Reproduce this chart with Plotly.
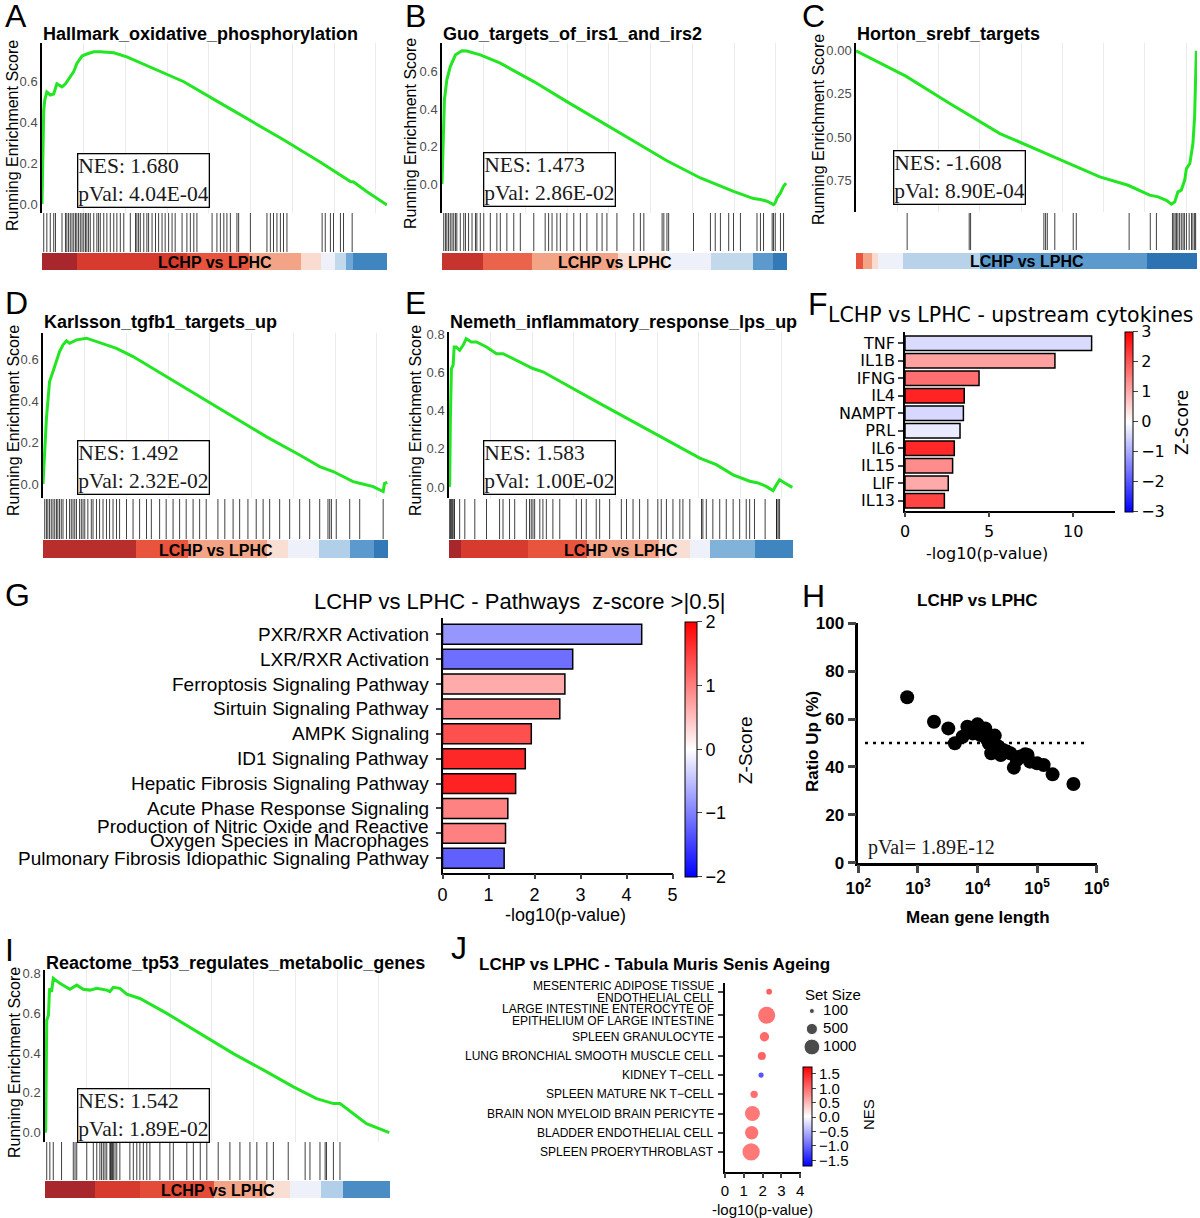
import plotly.graph_objects as go

W, H = 1200, 1218
SANS = "Liberation Sans, Arial, sans-serif"
SERIF = "Liberation Serif, Times New Roman, serif"
DEJAVU = "DejaVu Sans, sans-serif"

# ---------------- GSEA panels: rank (% of ranked list) vs running ES ----------------
A_title = "Hallmark_oxidative_phosphorylation"
A_nes, A_pval = "1.680", "4.04E-04"
A_rank = [0, 0.3, 0.5, 0.8, 1.4, 2.4, 3.4, 4.3, 5.8, 6.8, 8.2, 9.2, 10.1, 11.6, 13.0, 15.0, 16.9,
          20.8, 24.6, 31.4, 41.1, 50.7, 60.4, 70.0, 80.7, 84.5, 89.4, 90.3, 94.2, 100]
A_es = [0.0, 0.30, 0.46, 0.51, 0.55, 0.535, 0.54, 0.59, 0.575, 0.59, 0.625, 0.65, 0.69, 0.726, 0.736,
        0.747, 0.747, 0.742, 0.722, 0.673, 0.60, 0.505, 0.41, 0.315, 0.205, 0.165, 0.11, 0.108, 0.06, -0.005]
A_hits = [0.5, 1.4, 2.4, 3.4, 3.9, 5.8, 6.8, 7.2, 7.7, 8.2, 8.7, 9.2, 9.7, 10.1, 10.6, 11.1, 11.6, 12.1,
          12.6, 13.0, 13.5, 14.0, 15.0, 15.9, 16.4, 16.9, 17.9, 18.8, 19.8, 20.8, 21.7, 22.7, 23.7, 25.6,
          27.1, 27.5, 28.0, 28.5, 29.5, 30.4, 30.9, 31.9, 32.9, 33.8, 34.8, 35.7, 36.7, 37.7, 38.6, 40.6,
          42.0, 43.0, 44.0, 44.9, 49.3, 50.7, 51.7, 52.7, 53.6, 54.6, 56.5, 57.0, 60.4, 65.2, 66.2, 67.1,
          68.1, 69.1, 70.0, 71.0, 81.2, 82.1, 83.6, 84.5, 86.5, 87.4, 89.9]
A_edges = [0, 10, 42, 60, 75, 81, 85, 88, 90, 100]
A_metric = [1.0, 0.85, 0.7, 0.45, 0.22, 0.0, -0.25, -0.5, -0.75]
A_ticks = [0, 0.2, 0.4, 0.6]
A_ticklabels = ["0.0", "0.2", "0.4", "0.6"]

B_title = "Guo_targets_of_irs1_and_irs2"
B_nes, B_pval = "1.473", "2.86E-02"
B_rank = [0, 0.3, 0.7, 1.4, 2.4, 3.9, 5.8, 7.2, 11.1, 16.9, 26.6, 36.2, 45.9, 55.6, 65.2, 74.9, 79.7,
          84.5, 90.3, 92.3, 94.2, 96.1, 96.6, 97.1, 98.1, 99.0, 99.7]
B_es = [0.0, 0.27, 0.45, 0.556, 0.627, 0.69, 0.712, 0.71, 0.69, 0.645, 0.547, 0.44, 0.334, 0.227, 0.124,
        0.032, -0.004, -0.04, -0.078, -0.083, -0.092, -0.11, -0.10, -0.075, -0.048, -0.012, 0.005]
B_hits = [0.5, 1.0, 1.4, 1.9, 2.4, 2.9, 3.4, 3.9, 4.3, 5.3, 6.3, 6.8, 7.7, 8.7, 9.7, 10.1, 11.1, 12.1,
          14.0, 15.9, 16.9, 18.8, 20.8, 22.7, 26.6, 29.9, 30.9, 31.9, 33.3, 34.3, 36.2, 38.2, 40.1, 42.0,
          44.9, 46.4, 47.8, 50.7, 55.6, 57.5, 58.5, 63.8, 64.3, 65.2, 65.7, 72.9, 77.8, 79.2, 80.7, 83.1,
          84.5, 86.5, 91.3, 92.3, 93.2, 95.7, 96.1, 96.6, 98.1, 99.0]
B_edges = [0, 12, 26, 51, 65, 78, 90, 96, 100]
B_metric = [0.9, 0.65, 0.45, 0.2, 0.0, -0.25, -0.6, -0.85]
B_ticks = [0, 0.2, 0.4, 0.6]
B_ticklabels = ["0.0", "0.2", "0.4", "0.6"]

C_title = "Horton_srebf_targets"
C_nes, C_pval = "-1.608", "8.90E-04"
C_rank = [0, 14.6, 27.5, 42.2, 56.8, 71.5, 79.8, 86.1, 88.6, 91.0, 92.5, 93.5, 94.4, 95.4, 96.4, 96.9,
          97.9, 98.8, 99.3, 99.8]
C_es = [0.0, -0.147, -0.306, -0.48, -0.605, -0.731, -0.78, -0.837, -0.847, -0.867, -0.89, -0.876,
        -0.818, -0.808, -0.75, -0.683, -0.654, -0.538, -0.383, 0.0]
C_hits = [15.0, 33.2, 33.6, 55.1, 55.6, 56.1, 58.3, 63.7, 64.6, 80.1, 86.3, 88.1, 92.8, 93.2, 93.6, 94.0,
          94.4, 94.9, 95.4, 95.9, 96.3, 96.9, 97.7, 98.4, 98.8, 99.3, 99.6]
C_edges = [0, 2.1, 4.6, 6.5, 13.8, 36.3, 85.2, 100]
C_metric = [0.7, 0.45, 0.22, 0.0, -0.28, -0.6, -0.9]
C_ticks = [0, -0.25, -0.5, -0.75]
C_ticklabels = ["0.00", "0.25", "0.50", "0.75"]

D_title = "Karlsson_tgfb1_targets_up"
D_nes, D_pval = "1.492", "2.32E-02"
D_rank = [0, 0.5, 1.0, 1.4, 1.9, 2.9, 3.9, 4.8, 5.8, 6.8, 7.7, 9.7, 12.6, 16.4, 21.3, 26.1, 35.7, 45.4,
          55.1, 64.7, 74.4, 80.2, 84.1, 89.9, 91.8, 93.7, 95.7, 98.6, 99.0, 99.8]
D_es = [0.0, 0.19, 0.318, 0.398, 0.495, 0.544, 0.592, 0.64, 0.673, 0.692, 0.68, 0.697, 0.705, 0.685,
        0.656, 0.616, 0.519, 0.423, 0.326, 0.229, 0.14, 0.084, 0.06, 0.011, 0.003, -0.005, -0.013,
        -0.037, 0.003, 0.008]
D_hits = [0.5, 1.0, 1.4, 1.9, 2.4, 2.9, 3.4, 3.9, 4.3, 4.8, 5.3, 5.8, 6.8, 7.7, 8.2, 8.7, 9.2, 9.7, 10.6,
          11.1, 11.6, 12.1, 13.0, 14.0, 14.5, 15.5, 16.4, 17.4, 18.4, 19.3, 20.3, 21.3, 22.2, 24.2, 26.1,
          28.0, 30.0, 31.4, 33.8, 35.7, 37.7, 39.6, 41.5, 43.5, 45.4, 47.3, 50.7, 52.7, 55.1, 57.0, 59.4,
          61.8, 63.8, 65.7, 68.6, 71.5, 74.4, 77.3, 80.2, 82.6, 83.1, 83.6, 85.0, 88.9, 91.8, 98.6]
D_edges = [0, 27, 42, 65, 71, 80, 89, 96, 100]
D_metric = [0.95, 0.7, 0.45, 0.2, 0.0, -0.3, -0.6, -0.85]
D_ticks = [0, 0.2, 0.4, 0.6]
D_ticklabels = ["0.0", "0.2", "0.4", "0.6"]

E_title = "Nemeth_inflammatory_response_lps_up"
E_nes, E_pval = "1.583", "1.00E-02"
E_rank = [0, 0.2, 0.4, 0.7, 1.2, 1.5, 2.1, 3.1, 4.1, 5.0, 6.5, 8.0, 10.9, 13.8, 15.7, 19.6, 24.4, 27.3,
          34.1, 43.8, 53.5, 63.2, 72.9, 77.7, 82.6, 87.4, 89.8, 92.2, 94.2, 94.9, 96.1, 97.6, 99.8]
E_es = [0.0, 0.012, 0.36, 0.62, 0.64, 0.735, 0.735, 0.718, 0.744, 0.779, 0.762, 0.762, 0.735, 0.70, 0.70,
        0.666, 0.622, 0.605, 0.535, 0.439, 0.343, 0.247, 0.152, 0.117, 0.064, 0.03, 0.021, 0.003,
        -0.019, 0.003, 0.038, 0.021, -0.002]
E_hits = [0.2, 0.4, 0.7, 1.0, 1.4, 1.6, 3.1, 4.6, 7.5, 10.9, 14.7, 15.7, 17.6, 19.1, 22.5, 23.4, 23.9,
          24.4, 24.9, 26.4, 27.3, 28.3, 30.2, 32.2, 37.0, 38.5, 39.9, 42.8, 43.8, 46.7, 50.1, 51.6, 53.5,
          55.4, 57.8, 60.7, 61.7, 63.2, 65.1, 67.1, 68.0, 70.0, 73.4, 73.8, 74.8, 76.7, 78.7, 80.6, 82.6,
          84.5, 86.4, 87.4, 88.8, 91.9, 95.2, 95.3, 95.7, 96.1]
E_edges = [0, 3.6, 23, 40, 61, 70, 76, 89, 100]
E_metric = [1.0, 0.85, 0.7, 0.45, 0.2, 0.0, -0.45, -0.75]
E_ticks = [0, 0.2, 0.4, 0.6, 0.8]
E_ticklabels = ["0.0", "0.2", "0.4", "0.6", "0.8"]

I_title = "Reactome_tp53_regulates_metabolic_genes"
I_nes, I_pval = "1.542", "1.89E-02"
I_rank = [0, 0.2, 0.5, 1.0, 1.3, 1.4, 1.9, 2.2, 2.4, 4.3, 7.2, 9.2, 11.1, 13.0, 15.0, 17.9, 18.8, 19.8,
          21.7, 23.7, 27.5, 35.3, 44.9, 54.6, 64.3, 72.0, 78.7, 81.6, 83.6, 85.5, 89.4, 93.2, 99.8]
I_es = [0.0, 0.012, 0.565, 0.59, 0.716, 0.725, 0.708, 0.766, 0.775, 0.75, 0.72, 0.741, 0.72, 0.716,
        0.725, 0.716, 0.708, 0.73, 0.725, 0.696, 0.674, 0.599, 0.498, 0.397, 0.305, 0.23, 0.171, 0.154,
        0.146, 0.146, 0.096, 0.045, 0.0]
I_hits = [0.5, 1.4, 2.4, 4.8, 8.2, 8.7, 9.2, 12.1, 14.0, 15.0, 15.9, 16.4, 16.9, 17.4, 17.9, 18.8, 19.0,
          19.3, 19.6, 19.8, 20.3, 20.8, 21.7, 24.6, 25.6, 26.6, 27.5, 28.5, 29.5, 30.4, 33.3, 36.2, 37.2,
          41.1, 43.0, 45.0, 46.9, 50.2, 53.6, 56.5, 59.4, 61.4, 64.3, 66.2, 70.5, 75.4, 76.8, 79.7, 81.2,
          81.6, 83.6, 85.5]
I_edges = [0, 14.5, 27.5, 49, 64, 71, 80, 86.5, 100]
I_metric = [1.0, 0.85, 0.75, 0.45, 0.2, 0.0, -0.3, -0.7]
I_ticks = [0, 0.2, 0.4, 0.6, 0.8]
I_ticklabels = ["0.0", "0.2", "0.4", "0.6", "0.8"]

COMPARISON = "LCHP vs LPHC"

# ---------------- F: upstream cytokines ----------------
F_cytokines = ["TNF", "IL1B", "IFNG", "IL4", "NAMPT", "PRL", "IL6", "IL15", "LIF", "IL13"]
F_logp = [11.09, 8.91, 4.40, 3.52, 3.47, 3.27, 2.93, 2.83, 2.57, 2.34]
F_z = [-0.42, 1.11, 1.7, 2.59, -0.47, -0.23, 2.53, 1.35, 1.0, 2.2]

# ---------------- G: pathways ----------------
G_pathways = ["PXR/RXR Activation", "LXR/RXR Activation", "Ferroptosis Signaling Pathway",
              "Sirtuin Signaling Pathway", "AMPK Signaling", "ID1 Signaling Pathway",
              "Hepatic Fibrosis Signaling Pathway", "Acute Phase Response Signaling",
              "Production of Nitric Oxide and Reactive\nOxygen Species in Macrophages",
              "Pulmonary Fibrosis Idiopathic Signaling Pathway"]
G_logp = [4.33, 2.83, 2.66, 2.55, 1.93, 1.80, 1.59, 1.42, 1.37, 1.34]
G_z = [-0.82, -1.14, 0.66, 0.98, 1.37, 1.69, 1.73, 0.98, 1.0, -1.25]

# ---------------- H: ratio up vs gene length ----------------
H_gene_len = [661, 1862, 3236, 4169, 5623, 6761, 8318, 10000, 11220, 13490, 14125, 15490, 17000, 19500,
              22390, 24550, 26900, 30900, 35480, 40740, 45700, 51290, 63100, 69180, 75860, 100000,
              128800, 182000, 407000]
H_ratio_up = [69.1, 58.9, 56.1, 49.9, 52.6, 56.8, 54.0, 57.8, 53.3, 56.1, 51.9, 49.9, 45.7, 53.1, 48.5,
              45.0, 47.1, 46.4, 45.7, 39.7, 42.9, 44.3, 45.3, 45.0, 42.2, 41.5, 40.8, 36.9, 32.9]
H_ref = 50
H_pval = "1.89E-12"
H_xticks = [1e2, 1e3, 1e4, 1e5, 1e6]
H_xticklabels = ["10<sup>2</sup>", "10<sup>3</sup>", "10<sup>4</sup>", "10<sup>5</sup>", "10<sup>6</sup>"]

# ---------------- J: Tabula Muris Senis ----------------
J_cells = ["MESENTERIC ADIPOSE TISSUE\nENDOTHELIAL CELL",
           "LARGE INTESTINE ENTEROCYTE OF\nEPITHELIUM OF LARGE INTESTINE",
           "SPLEEN GRANULOCYTE", "LUNG BRONCHIAL SMOOTH MUSCLE CELL", "KIDNEY T\u2212CELL",
           "SPLEEN MATURE NK T\u2212CELL", "BRAIN NON MYELOID BRAIN PERICYTE",
           "BLADDER ENDOTHELIAL CELL", "SPLEEN PROERYTHROBLAST"]
J_logp = [2.35, 2.22, 2.10, 1.96, 1.92, 1.55, 1.46, 1.42, 1.39]
J_setsize = [130, 1150, 350, 256, 110, 215, 900, 711, 1200]
J_nes = [1.55, 1.35, 1.45, 1.5, -1.6, 1.4, 1.3, 1.35, 1.3]
J_legend_sizes = [100, 500, 1000]

# ---------------- styling ----------------
STRIP = [[0.0, "#2166ac"], [0.125, "#3f86c0"], [0.25, "#6fa8d6"], [0.375, "#c2d9ec"],
         [0.5, "#eef0fa"], [0.625, "#fbd9c9"], [0.725, "#f4a486"], [0.85, "#e8543e"],
         [0.925, "#d63b2e"], [1.0, "#a7272c"]]
BWR = [[0, "rgb(0,0,255)"], [0.5, "rgb(255,255,255)"], [1, "rgb(255,0,0)"]]

gsea = {
    "A": dict(title=A_title, nes=A_nes, pval=A_pval, rank=A_rank, es=A_es, hits=A_hits, edges=A_edges,
              metric=A_metric, ticks=A_ticks, ticklabels=A_ticklabels),
    "B": dict(title=B_title, nes=B_nes, pval=B_pval, rank=B_rank, es=B_es, hits=B_hits, edges=B_edges,
              metric=B_metric, ticks=B_ticks, ticklabels=B_ticklabels),
    "C": dict(title=C_title, nes=C_nes, pval=C_pval, rank=C_rank, es=C_es, hits=C_hits, edges=C_edges,
              metric=C_metric, ticks=C_ticks, ticklabels=C_ticklabels),
    "D": dict(title=D_title, nes=D_nes, pval=D_pval, rank=D_rank, es=D_es, hits=D_hits, edges=D_edges,
              metric=D_metric, ticks=D_ticks, ticklabels=D_ticklabels),
    "E": dict(title=E_title, nes=E_nes, pval=E_pval, rank=E_rank, es=E_es, hits=E_hits, edges=E_edges,
              metric=E_metric, ticks=E_ticks, ticklabels=E_ticklabels),
    "I": dict(title=I_title, nes=I_nes, pval=I_pval, rank=I_rank, es=I_es, hits=I_hits, edges=I_edges,
              metric=I_metric, ticks=I_ticks, ticklabels=I_ticklabels),
}

# pixel boxes for each GSEA panel
boxes = {
    "A": dict(x=(42, 387), es=(43, 213), hits=(213, 252), strip=(253, 270), yr=[-0.044, 0.79],
              letter=(3, 16), title_y=34, ylab=(13, 136), nesbox=(77, 153)),
    "B": dict(x=(442, 787), es=(43, 213), hits=(213, 251), strip=(253, 270), yr=[-0.155, 0.753],
              letter=(403, 16), title_y=34, ylab=(411, 134), nesbox=(483, 152)),
    "C": dict(x=(856, 1197), es=(43, 212), hits=(213, 250), strip=(253, 269), yr=[-0.935, 0.045],
              letter=(800, 16), title_y=34, ylab=(819, 130), nesbox=(893, 150)),
    "D": dict(x=(43, 388), es=(333, 498), hits=(499, 539), strip=(540, 558), yr=[-0.068, 0.73],
              letter=(3, 303), title_y=322, ylab=(14, 421), nesbox=(77, 440)),
    "E": dict(x=(449, 793), es=(332, 498), hits=(499, 539), strip=(540, 558), yr=[-0.058, 0.814],
              letter=(403, 303), title_y=322, ylab=(416, 421), nesbox=(483, 440)),
    "I": dict(x=(45, 390), es=(970, 1142), hits=(1142, 1180), strip=(1181, 1198), yr=[-0.047, 0.817],
              letter=(3, 950), title_y=963, ylab=(14, 1063), nesbox=(77, 1088)),
}

fig = go.Figure()
annots = []
shapes = []
axes_layout = {}

BLANK = dict(showgrid=False, zeroline=False, showline=False, ticks="", showticklabels=False,
             fixedrange=True)


def add_axes(n, xpx, ypx, xa=None, ya=None):
    xk = "xaxis" if n == 1 else f"xaxis{n}"
    yk = "yaxis" if n == 1 else f"yaxis{n}"
    xr = "x" if n == 1 else f"x{n}"
    yr = "y" if n == 1 else f"y{n}"
    axes_layout[xk] = {**BLANK, "domain": [xpx[0] / W, xpx[1] / W], "anchor": yr, **(xa or {})}
    axes_layout[yk] = {**BLANK, "domain": [1 - ypx[1] / H, 1 - ypx[0] / H], "anchor": xr, **(ya or {})}
    return xr, yr


def note(s, x, y, size, family=SANS, color="black", xanchor="left", yanchor="middle", angle=0, **kw):
    annots.append(dict(text=s, x=x / W, y=1 - y / H, xref="paper", yref="paper", showarrow=False,
                       xanchor=xanchor, yanchor=yanchor, textangle=angle,
                       font=dict(size=size, family=family, color=color), **kw))


def row_labels(names, cats, yref, xpx, size, gap):
    # category labels right-aligned left of the axis, multi-line ones packed tightly
    for name, cat in zip(names, cats):
        lines = name.split("\n")
        for i, line in enumerate(lines):
            annots.append(dict(text=line, x=xpx / W, xref="paper", y=cat, yref=yref, showarrow=False,
                               xanchor="right", yanchor="middle",
                               yshift=((len(lines) - 1) / 2 - i) * gap,
                               font=dict(size=size, family=SANS, color="black")))


# ------------ GSEA panels ------------
n = 1
for key, p in gsea.items():
    b = boxes[key]
    xr, yr = add_axes(n, b["x"], b["es"],
                      dict(range=[0, 100], showgrid=True, gridcolor="#ebebeb", gridwidth=1,
                           tick0=0, dtick=12.1),
                      dict(range=b["yr"], showline=True, linecolor="black", linewidth=1.5,
                           showticklabels=True, tickvals=p["ticks"], ticktext=p["ticklabels"],
                           tickfont=dict(size=13, color="#4d4d4d", family=SANS)))
    fig.add_trace(go.Scatter(x=p["rank"], y=p["es"], mode="lines", line=dict(color="#22e622", width=3),
                             xaxis=xr, yaxis=yr, showlegend=False, hoverinfo="skip"))

    hx, hy = [], []
    for h in p["hits"]:
        hx += [h, h, None]
        hy += [0, 1, None]
    xr, yr = add_axes(n + 1, b["x"], b["hits"], dict(range=[0, 100]), dict(range=[0, 1]))
    fig.add_trace(go.Scatter(x=hx, y=hy, mode="lines", line=dict(color="rgba(0,0,0,0.75)", width=1),
                             xaxis=xr, yaxis=yr, showlegend=False, hoverinfo="skip"))

    xr, yr = add_axes(n + 2, b["x"], b["strip"], dict(range=[0, 100]), dict(range=[0, 1]))
    fig.add_trace(go.Heatmap(z=[p["metric"]], x=p["edges"], y=[0, 1], colorscale=STRIP, zmin=-1, zmax=1,
                             showscale=False, xaxis=xr, yaxis=yr, hoverinfo="skip"))
    n += 3

    note(key, b["letter"][0], b["letter"][1], 32)
    note(f"<b>{p['title']}</b>", b["x"][0] - 1, b["title_y"], 18)
    note("Running Enrichment Score", b["ylab"][0], b["ylab"][1], 16, xanchor="center", angle=-90)
    note(f"NES: {p['nes']}<br>pVal: {p['pval']}", b["nesbox"][0], b["nesbox"][1], 21.5, family=SERIF,
         color="#1a1a1a", yanchor="top", align="left", bordercolor="black", borderwidth=1.3,
         borderpad=0, bgcolor="white")
    note(f"<b>{COMPARISON}</b>", (b["x"][0] + b["x"][1]) / 2, (b["strip"][0] + b["strip"][1]) / 2 + 1,
         16, xanchor="center")

# ------------ F ------------
xr, yr = add_axes(19, (905, 1115), (331.7, 510.7),
                  dict(range=[0, 12.48], showline=True, linecolor="black", linewidth=1.5,
                       ticks="outside", ticklen=5, tickwidth=1.5, showticklabels=True,
                       tickvals=[0, 5, 10], tickfont=dict(family=DEJAVU, size=16, color="black")),
                  dict(type="category", range=[9.57, -0.66], showline=True, linecolor="black",
                       linewidth=1.5, ticks="outside", ticklen=5, tickwidth=1.5, showticklabels=True,
                       tickmode="array", tickvals=F_cytokines, ticktext=F_cytokines,
                       tickfont=dict(family=DEJAVU, size=16, color="black")))
fig.add_trace(go.Bar(x=F_logp, y=F_cytokines, orientation="h", width=0.84, xaxis=xr, yaxis=yr,
                     showlegend=False, hoverinfo="skip",
                     marker=dict(color=F_z, colorscale=BWR, cmin=-3, cmax=3,
                                 line=dict(color="black", width=1.5),
                                 colorbar=dict(x=1125 / W, xanchor="left", y=1 - 331.7 / H, yanchor="top",
                                               len=180 / H, lenmode="fraction", thickness=8,
                                               xpad=0, ypad=0, outlinecolor="black", outlinewidth=1,
                                               tickvals=[-3, -2, -1, 0, 1, 2, 3], ticks="outside",
                                               ticklen=5, tickfont=dict(family=DEJAVU, size=16)))))
note("F", 806, 304, 32)
note("LCHP vs LPHC - upstream cytokines", 826, 315, 20.5, family=DEJAVU)
note("-log10(p-value)", 987, 553, 16, family=DEJAVU, xanchor="center")
note("Z-Score", 1182, 423, 17, family=DEJAVU, xanchor="center", angle=-90)

# ------------ G ------------
G_cats = [s.replace("\n", " ") for s in G_pathways]
xr, yr = add_axes(20, (442.5, 673), (618.3, 872.7),
                  dict(range=[0, 5.01], showline=True, linecolor="black", linewidth=1.5,
                       ticks="outside", ticklen=5, tickwidth=1.5, showticklabels=True,
                       tickvals=[0, 1, 2, 3, 4, 5], tickfont=dict(family=SANS, size=18, color="black")),
                  dict(type="category", range=[9.58, -0.64], showline=True, linecolor="black",
                       linewidth=1.5, ticks="outside", ticklen=5, tickwidth=1.5,
                       tickmode="array", tickvals=G_cats))
fig.add_trace(go.Bar(x=G_logp, y=G_cats, orientation="h", width=0.8, xaxis=xr, yaxis=yr,
                     showlegend=False, hoverinfo="skip",
                     marker=dict(color=G_z, colorscale=BWR, cmin=-2, cmax=2,
                                 line=dict(color="black", width=1.5),
                                 colorbar=dict(x=685 / W, xanchor="left", y=1 - 621.7 / H, yanchor="top",
                                               len=255 / H, lenmode="fraction", thickness=12,
                                               xpad=0, ypad=0, outlinecolor="black", outlinewidth=1,
                                               tickvals=[-2, -1, 0, 1, 2], ticks="outside",
                                               ticklen=5, tickfont=dict(family=SANS, size=18)))))
row_labels(G_pathways, G_cats, yr, 431, 19, 14)
note("G", 3, 595, 32)
note("LCHP vs LPHC - Pathways  z-score >|0.5|", 519, 601, 22, xanchor="center")
note("-log10(p-value)", 565, 915, 18, xanchor="center")
note("Z-Score", 745, 750, 19, xanchor="center", angle=-90)

# ------------ H ------------
bold17 = dict(family=SANS, size=17, color="black", weight="bold")
xr, yr = add_axes(21, (858.3, 1096.7), (623.3, 862.7),
                  dict(type="log", range=[2, 6], showline=True, linecolor="black", linewidth=2.5,
                       ticks="outside", ticklen=8, tickwidth=2.5, showticklabels=True,
                       tickvals=H_xticks, ticktext=H_xticklabels, tickfont=bold17),
                  dict(range=[0, 100], showline=True, linecolor="black", linewidth=2.5,
                       ticks="outside", ticklen=8, tickwidth=2.5, showticklabels=True,
                       tickvals=[0, 20, 40, 60, 80, 100], tickfont=bold17))
fig.add_trace(go.Scatter(x=H_gene_len, y=H_ratio_up, mode="markers", xaxis=xr, yaxis=yr,
                         marker=dict(size=14, color="black"), showlegend=False, hoverinfo="skip",
                         cliponaxis=False))
shapes.append(dict(type="line", xref=f"{xr} domain", x0=0.028, x1=0.965, yref=yr, y0=H_ref, y1=H_ref,
                   line=dict(color="black", width=2.5, dash="3px,5px")))
note("H", 800, 596, 32)
note("<b>LCHP vs LPHC</b>", 978, 600, 17, xanchor="center")
note("<b>Ratio Up (%)</b>", 812, 742, 17, xanchor="center", angle=-90)
note("<b>Mean gene length</b>", 978, 917, 17, xanchor="center")
note(f"pVal= {H_pval}", 866, 847, 20, family=SERIF, color="#1a1a1a")

# ------------ J ------------
# row positions: rows whose label wraps onto two lines get a little more room (as in the source)
row_h = [1 + 0.23 * name.count("\n") for name in J_cells]
J_pos = [0.0]
for h0, h1 in zip(row_h, row_h[1:]):
    J_pos.append(J_pos[-1] + (h0 + h1) / 2)
xr, yr = add_axes(22, (725, 800.7), (983.3, 1171.7),
                  dict(range=[0, 4.03], showline=True, linecolor="black", linewidth=1.5,
                       ticks="outside", ticklen=5, tickwidth=1.5, showticklabels=True,
                       tickvals=[0, 1, 2, 3, 4], tickfont=dict(family=SANS, size=15, color="black")),
                  dict(range=[9.375, -0.4375], showline=True, linecolor="black",
                       linewidth=1.5, ticks="outside", ticklen=5, tickwidth=1.5,
                       tickmode="array", tickvals=J_pos))
fig.add_trace(go.Scatter(x=J_logp, y=J_pos, mode="markers", xaxis=xr, yaxis=yr, showlegend=False,
                         hoverinfo="skip", cliponaxis=False,
                         marker=dict(size=[0.5 * s ** 0.5 for s in J_setsize], color=J_nes,
                                     colorscale=BWR, cmin=-1.71, cmax=1.73, line=dict(width=0),
                                     colorbar=dict(x=803 / W, xanchor="left", y=1 - 1067.3 / H,
                                                   yanchor="top", len=98.7 / H, lenmode="fraction",
                                                   thickness=8.5, xpad=0, ypad=0, outlinecolor="black",
                                                   outlinewidth=1, tickvals=[-1.5, -1, -0.5, 0, 0.5, 1, 1.5],
                                                   tickformat=".1f", ticks="outside", ticklen=4,
                                                   tickfont=dict(family=SANS, size=15)))))
row_labels(J_cells, J_pos, yr, 716, 12, 12.3)
# size legend
lx, ly = add_axes(23, (800, 870), (1002, 1056), dict(range=[0, 1]),
                  dict(type="category", range=[2.5, -0.5]))
leg_labels = [str(s) for s in J_legend_sizes]
fig.add_trace(go.Scatter(x=[0.17] * len(J_legend_sizes), y=leg_labels, mode="markers", xaxis=lx, yaxis=ly,
                         marker=dict(size=[0.5 * s ** 0.5 for s in J_legend_sizes], color="black"),
                         showlegend=False, hoverinfo="skip", cliponaxis=False))
fig.add_trace(go.Scatter(x=[0.33] * len(J_legend_sizes), y=leg_labels, mode="text", text=leg_labels,
                         textposition="middle right", textfont=dict(family=SANS, size=15, color="black"),
                         xaxis=lx, yaxis=ly, showlegend=False, hoverinfo="skip", cliponaxis=False))
note("Set Size", 803, 994, 15)
note("J", 449, 948, 32)
note("<b>LCHP vs LPHC - Tabula Muris Senis Ageing</b>", 477, 964, 17)
note("-log10(p-value)", 762, 1209, 15, xanchor="center")
note("NES", 868, 1115, 15, xanchor="center", angle=-90)

fig.update_layout(
    width=W, height=H,
    margin=dict(l=0, r=0, t=0, b=0, autoexpand=False),
    paper_bgcolor="white", plot_bgcolor="white",
    font=dict(family=SANS, color="black"),
    showlegend=False,
    annotations=annots,
    shapes=shapes,
    **axes_layout,
)

# drop the page's default body margin so the 1200x1218 figure sits at the window origin
fig.write_html("out.html", config={"displayModeBar": False},
               post_script="document.body.style.margin='0';")
